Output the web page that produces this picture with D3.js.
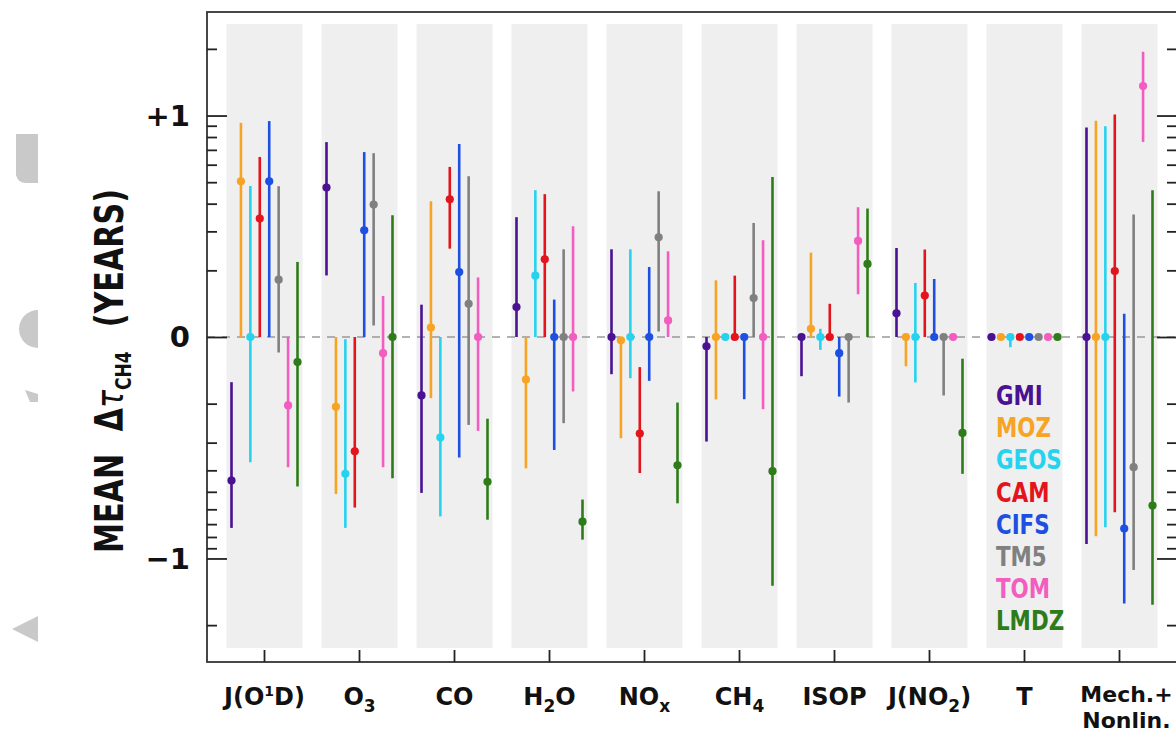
<!DOCTYPE html>
<html>
<head>
<meta charset="utf-8">
<script src="https://cdn.jsdelivr.net/npm/d3@7"></script>
<style>
  html, body { margin: 0; padding: 0; background: #fff; }
  svg { display: block; }
</style>
</head>
<body>
<svg id="chart" width="1176" height="738"></svg>
<script>
// ---------------- DATA ----------------
const categories = ["J(O^1D)", "O_3", "CO", "H_2O", "NO_x", "CH_4", "ISOP", "J(NO_2)", "T", "Mech.+|Nonlin."];
const models = ["GMI", "MOZ", "GEOS", "CAM", "CIFS", "TM5", "TOM", "LMDZ"];
const colors = ["#4a1192", "#f7a324", "#25d3ef", "#e4141d", "#1c4fe2", "#808080", "#f25dbf", "#2e7b1a"];

// mean value per model (rows) and category (columns)
const means = [
  [-0.648, 0.675, -0.264, 0.135, 0, -0.042, 0, 0.107, 0, 0],          // GMI
  [0.703, -0.315, 0.043, -0.192, -0.015, 0, 0.037, 0, 0, 0],          // MOZ
  [0, -0.618, -0.454, 0.277, 0, 0, 0, 0, 0, 0],                       // GEOS
  [0.535, -0.516, 0.622, 0.351, -0.436, 0, 0, 0.187, 0, 0.298],       // CAM
  [0.703, 0.482, 0.293, 0, 0, 0, -0.073, 0, 0, -0.865],               // CIFS
  [0.259, 0.598, 0.150, 0, 0.450, 0.176, 0, 0, 0, -0.588],            // TM5
  [-0.309, -0.073, 0, 0, 0.075, 0, 0.434, 0, 0, 1.133],               // TOM
  [-0.113, 0, -0.654, -0.834, -0.579, -0.606, 0.330, -0.433, 0, -0.761] // LMDZ
];
// lower end of range
const lows = [
  [-0.862, 0.278, -0.704, 0, -0.168, -0.472, -0.177, 0, 0, -0.935],
  [0, -0.709, -0.276, -0.593, -0.457, -0.282, 0, -0.132, 0, -0.900],
  [-0.565, -0.862, -0.810, 0, -0.186, 0, -0.058, -0.205, -0.046, -0.859],
  [0, -0.770, 0.399, 0, -0.614, 0, 0, 0, 0, -0.791],
  [0, 0, -0.544, -0.510, -0.198, -0.281, -0.269, 0, 0, -1.203],
  [-0.070, 0.052, -0.397, -0.389, 0.025, 0, -0.296, -0.264, 0, -1.052],
  [-0.588, -0.588, -0.424, -0.246, 0, -0.326, 0.193, 0, 0, 0.881],
  [-0.675, -0.638, -0.825, -0.915, -0.751, -1.123, 0, -0.618, 0, -1.209]
];
// upper end of range
const highs = [
  [-0.204, 0.880, 0.146, 0.541, 0.396, 0, 0, 0.402, 0, 0.946],
  [0.967, 0, 0.613, 0, 0, 0.256, 0.381, 0, 0, 0.976],
  [0.682, -0.010, 0, 0.663, 0.396, 0, 0.037, 0.244, 0, 0.952],
  [0.813, 0, 0.768, 0.645, -0.136, 0.277, 0.150, 0.395, 0, 1.005],
  [0.975, 0.835, 0.871, 0.169, 0.316, 0, 0, 0.262, 0, 0.105],
  [0.681, 0.830, 0.726, 0.396, 0.658, 0.515, 0, 0, 0, 0.553],
  [0, 0.185, 0.269, 0.500, 0.387, 0.437, 0.586, 0, 0, 1.288],
  [0.339, 0.550, -0.369, -0.734, -0.296, 0.722, 0.580, -0.098, 0, 0.663]
];

const majorTicks = [-1, 0, 1];
const majorTickLabels = ["\u22121", "0", "+1"];
const minorTicks = [-1.301, -0.954, -0.903, -0.845, -0.778, -0.699, -0.602, -0.477, -0.301,
                    0.301, 0.477, 0.602, 0.699, 0.778, 0.845, 0.903, 0.954, 1.301];
const yDomain = [-1.4675, 1.4675];

// ---------------- LAYOUT ----------------
const svg = d3.select("#chart");
const L = 207, R = 1177, T = 12, B = 662;

const y = d3.scaleLinear().domain(yDomain).range([B, T]);
const x = d3.scaleBand().domain(categories).range([L + 10, R - 10]).paddingInner(0.2).paddingOuter(0.1);
const bw = x.bandwidth();
const xi = d3.scalePoint().domain(models).range([5, bw - 5]);

// decorative grey shapes at far left
const deco = svg.append("g").attr("fill", "#c9c9c9");
deco.append("path").attr("d", "M16,134 H38 V183 H26 Q18,183 16,175 Z");
deco.append("path").attr("d", "M38,310 A19,19 0 0 0 38,348 Z");
deco.append("path").attr("d", "M25,390 L38,394 L38,402 L30,402 Z");
deco.append("path").attr("d", "M12,629 L38,616 L38,642 Z");

// gray category bands
svg.append("g").selectAll("rect").data(categories).join("rect")
  .attr("x", d => x(d)).attr("width", bw)
  .attr("y", T + 12).attr("height", (B - 14) - (T + 12))
  .attr("fill", "#efefef");

// zero dashed line
svg.append("line")
  .attr("x1", L).attr("x2", R).attr("y1", y(0)).attr("y2", y(0))
  .attr("stroke", "#999").attr("stroke-width", 1.3).attr("stroke-dasharray", "8,7");

// error bars and points
const marks = svg.append("g");
models.forEach((m, mi) => {
  const g = marks.append("g");
  categories.forEach((c, ci) => {
    const cx = x(c) + xi(m);
    const lo = lows[mi][ci], hi = highs[mi][ci];
    if (hi !== lo) {
      g.append("line")
        .attr("x1", cx).attr("x2", cx)
        .attr("y1", y(lo)).attr("y2", y(hi))
        .attr("stroke", colors[mi]).attr("stroke-width", 2.6);
    }
    g.append("circle")
      .attr("cx", cx).attr("cy", y(means[mi][ci])).attr("r", 4.1)
      .attr("fill", colors[mi]);
  });
});

// frame
svg.append("rect").attr("x", L).attr("y", T).attr("width", R - L).attr("height", B - T)
  .attr("fill", "none").attr("stroke", "#333").attr("stroke-width", 1.8);

// axes (ticks inward)
function styleAxis(g) {
  g.select(".domain").remove();
  g.selectAll(".tick line").attr("stroke", "#222").attr("stroke-width", 1.8);
  g.selectAll(".tick text").remove();
}
svg.append("g").attr("transform", `translate(${L},0)`)
  .call(d3.axisLeft(y).tickValues(majorTicks).tickSize(-20)).call(styleAxis);
svg.append("g").attr("transform", `translate(${L},0)`)
  .call(d3.axisLeft(y).tickValues(minorTicks).tickSize(-10)).call(styleAxis);
svg.append("g").attr("transform", `translate(${R},0)`)
  .call(d3.axisRight(y).tickValues(majorTicks).tickSize(-20)).call(styleAxis);
svg.append("g").attr("transform", `translate(${R},0)`)
  .call(d3.axisRight(y).tickValues(minorTicks).tickSize(-10)).call(styleAxis);
svg.append("g").attr("transform", `translate(0,${B})`)
  .call(d3.axisBottom(x).tickSize(-12)).call(styleAxis);

// y tick labels
svg.append("g").selectAll("text").data(majorTicks).join("text")
  .attr("x", L - 17).attr("y", d => y(d))
  .attr("dy", "0.36em")
  .attr("text-anchor", "end")
  .attr("font-family", "'DejaVu Sans', sans-serif").attr("font-weight", "bold")
  .attr("font-size", 29).attr("fill", "#111")
  .text((d, i) => majorTickLabels[i]);

// category labels with sub/superscripts
const catFont = "'DejaVu Sans', sans-serif";
categories.forEach(c => {
  const cx = x(c) + bw / 2;
  const lines = c.split("|");
  const multi = lines.length > 1;
  lines.forEach((line, li) => {
    const t = svg.append("text")
      .attr("x", cx + (multi ? 7 : 0)).attr("y", (multi ? 702 : 705) + li * 26)
      .attr("text-anchor", "middle")
      .attr("font-family", catFont).attr("font-weight", "bold")
      .attr("font-size", multi ? 22 : 24).attr("fill", "#111");
    const parts = line.split(/([_^].)/).filter(s => s.length);
    let shift = 0;
    parts.forEach(p => {
      if (p[0] === "_") {
        t.append("tspan").attr("dy", 7 - shift).attr("font-size", 17).text(p[1]);
        shift = 7;
      } else if (p[0] === "^") {
        t.append("tspan").attr("dy", -9 - shift).attr("font-size", 14).text(p[1]);
        shift = -9;
      } else {
        t.append("tspan").attr("dy", -shift).text(p);
        shift = 0;
      }
    });
  });
});

// y axis title (narrow bold, rotated)
const narrow = "'Liberation Sans Narrow', 'DejaVu Sans Condensed', sans-serif";
const title = svg.append("text")
  .attr("transform", "translate(123,371) rotate(-90) scale(0.86,1)")
  .attr("text-anchor", "middle")
  .attr("font-family", narrow).attr("font-weight", "bold")
  .attr("font-size", 39).attr("fill", "#111");
title.append("tspan").text("MEAN");
title.append("tspan").attr("dx", 26).text("\u0394");
title.append("tspan").attr("font-style", "italic").attr("font-weight", "normal").text("\u03c4");
title.append("tspan").attr("dy", 8).attr("font-size", 22).text("CH4");
title.append("tspan").attr("dy", -8).attr("dx", 28).text("(YEARS)");

// legend
svg.append("g").selectAll("text").data(models).join("text")
  .attr("transform", (d, i) => `translate(996,${405 + i * 32.2}) scale(0.88,1)`)
  .attr("font-family", narrow).attr("font-weight", "bold")
  .attr("font-size", 27)
  .attr("fill", (d, i) => colors[i])
  .text(d => d);
</script>
</body>
</html>
